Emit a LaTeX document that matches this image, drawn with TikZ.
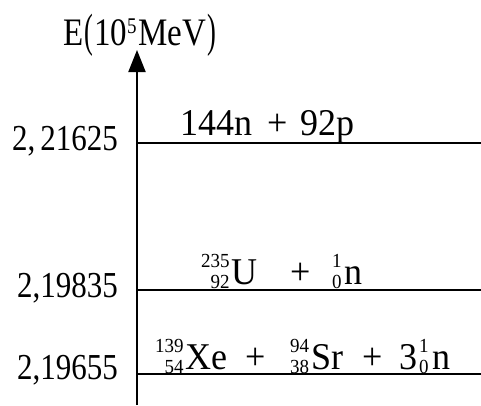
\documentclass[tikz,border=0pt]{standalone}
\usepackage{fontspec}
\setmainfont{Liberation Serif}
\usetikzlibrary{arrows.meta}
\newcommand\vs[1]{\scalebox{1}[1.18]{#1}}
\newcommand\vr[1]{\scalebox{1}[1.05]{#1}}
\newcommand\iso[3]{{\fontsize{19}{19}\selectfont\setbox0\hbox{#1}\setbox2\hbox{#2}%
\ifdim\wd0>\wd2 \dimen0=\wd0 \else\dimen0=\wd2 \fi
\makebox[\dimen0][r]{\raisebox{16pt}{#1}}\llap{\raisebox{-4pt}{#2}}\kern2pt}#3}
\begin{document}
\begin{tikzpicture}[x=1pt,y=-1pt,
  lvl/.style={line width=2pt},
  val/.style={anchor=base east,inner sep=0pt,font=\fontsize{31}{31}\selectfont},
  rx/.style={anchor=base west,inner sep=0pt,font=\fontsize{36}{36}\selectfont}]
\useasboundingbox (0,0) rectangle (481,405);
% axis
\coordinate (ax0) at (137,405);
\coordinate (ax1) at (137,50);
\draw[line width=2pt,-{Triangle[width=17pt,length=22pt]}] (ax0) -- (ax1);
\node[anchor=base west,inner sep=0pt,font=\fontsize{33}{33}\selectfont] (elab) at (63,45)
  {\vs{E\kern1pt\raisebox{-1pt}{\scalebox{0.8}[1.2]{(}}\kern1pt10\raisebox{10pt}{\fontsize{19}{19}\selectfont 5}\kern2pt MeV\kern1pt\raisebox{-1pt}{\scalebox{0.8}[1.2]{)}}}};
% levels
\coordinate (a1) at (137,143); \coordinate (b1) at (481,143);
\coordinate (a2) at (137,290); \coordinate (b2) at (481,290);
\coordinate (a3) at (137,374); \coordinate (b3) at (481,374);
\draw[lvl] (a1) -- (b1);
\draw[lvl] (a2) -- (b2);
\draw[lvl] (a3) -- (b3);
% values
\node[val] (v1) at (118,150) {\vs{2,\hspace{5pt}21625}};
\node[val] (v2) at (118,297) {\vs{2,19835}};
\node[val] (v3) at (118,379) {\vs{2,19655}};
% reactions
\node[rx] (r1a) at (180,135) {\vr{144n}};
\node[rx] (r1b) at (267,135) {\vr{+}};
\node[rx] (r1c) at (300,135) {\vr{92p}};
\node[rx] (r2a) at (201,284) {\vr{\iso{235}{92}{U}}};
\node[rx] (r2b) at (290,284) {\vr{+}};
\node[rx] (r2c) at (332,284) {\vr{\iso{1}{0}{\kern1pt n}}};
\node[rx] (r3a) at (155,369) {\vr{\iso{139}{54}{Xe}}};
\node[rx] (r3b) at (245,369) {\vr{+}};
\node[rx] (r3c) at (290,369) {\vr{\iso{94}{38}{Sr}}};
\node[rx] (r3d) at (362,369) {\vr{+}};
\node[rx] (r3e) at (399,369) {\vr{3\kern2pt\iso{1}{0}{\kern2pt n}}};
\end{tikzpicture}
\end{document}
